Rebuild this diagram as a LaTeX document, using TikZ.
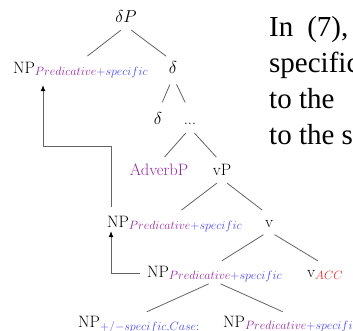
\documentclass[tikz,border=0pt]{standalone}
\usepackage{fontspec}
\newfontfamily\docserif{Liberation Serif}
\definecolor{purp}{RGB}{150,40,160}
\definecolor{blu}{RGB}{70,70,240}
\definecolor{redd}{RGB}{240,40,40}
\definecolor{edge}{RGB}{100,100,100}
\usetikzlibrary{arrows.meta}
\tikzset{
  tn/.style={inner sep=0pt, text height=11.5pt, text depth=4pt, font=\fontsize{16.5}{19}\selectfont},
  br/.style={draw=edge, line width=0.8pt, shorten <=6.5pt, shorten >=8.5pt},
  mv/.style={draw=edge, line width=0.8pt, -{Latex[length=6pt,width=5pt,black]}},
  doc/.style={inner sep=0pt, anchor=base west, font=\docserif\fontsize{29}{34}\selectfont}
}
\begin{document}
\begin{tikzpicture}[x=1pt,y=-1pt]
\useasboundingbox (0,0) rectangle (353,330);
\clip (0,0) rectangle (353,330);
% tree nodes
\node[tn, anchor=base] (dP) at (126,22) {$\delta P$};
\node[tn, anchor=base west] (np1) at (13,73) {NP$_{\color{purp}Predicative\color{blu}+specific}$};
\node[tn, anchor=base] (d1) at (173,73) {$\delta$};
\node[tn, anchor=base] (d2) at (158,124) {$\delta$};
\node[tn, anchor=base] (dots) at (190,124) {...};
\node[tn, anchor=base, text=purp] (adv) at (159,175) {AdverbP};
\node[tn, anchor=base] (vP) at (222,175) {vP};
\node[tn, anchor=base west] (np2) at (107,227) {NP$_{\color{purp}Predicative\color{blu}+specific}$};
\node[tn, anchor=base] (v) at (269,227) {v};
\node[tn, anchor=base west] (np3) at (147,277) {NP$_{\color{purp}Predicative\color{blu}+specific}$};
\node[tn, anchor=base west] (vacc) at (307,277) {v$_{\color{redd}ACC}$};
\node[tn, anchor=base west] (np4) at (78,327) {NP$_{\color{blu}+/-specific,Case:}$};
\node[tn, anchor=base west] (np5) at (223,327) {NP$_{\color{purp}Predicative\color{blu}+specific}$};
% branches
\draw[br] (dP.south) -- (np1.north);
\draw[br] (dP.south) -- (d1.north);
\draw[br, shorten <=8pt, shorten >=11pt] (d1.south) -- (d2.north);
\draw[br, shorten <=8pt, shorten >=11pt] (d1.south) -- (dots.north);
\draw[br] (dots.south) -- (adv.north);
\draw[br] (dots.south) -- (vP.north);
\draw[br] (vP.south) -- (np2.north);
\draw[br] (vP.south) -- (v.north);
\draw[br] (v.south) -- (np3.north);
\draw[br] (v.south) -- (vacc.north);
\draw[br] (np3.south) -- (np4.north);
\draw[br] (np3.south) -- (np5.north);
% movement arrows
\draw[mv] ([xshift=-7pt]np3.west) -| ([xshift=4pt]np2.south west);
\draw[mv] ([xshift=4pt,yshift=8pt]np2.north west) -- ++(0,-61) -| ([xshift=30pt,yshift=-8pt]np1.south west);
% running text of the page
\node[doc] (t1) at (269,36) {In\hspace{14pt}(7),};
\node[doc] (t2) at (269,72) {specific};
\node[doc] (t3) at (269,108) {to the};
\node[doc] (t4) at (269,144) {to the s};
\end{tikzpicture}
\end{document}
